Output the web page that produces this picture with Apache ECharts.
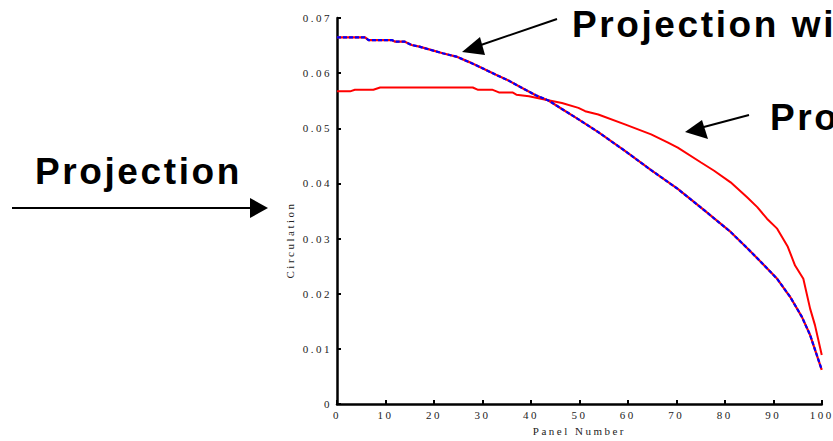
<!DOCTYPE html>
<html>
  <head>
    <meta charset="UTF-8">
    <style>
      #container text[style*="Serif"], #container text[font-family*="Serif"] { letter-spacing: 2.5px; }
      #container text[style*="Sans"], #container text[font-family*="Sans"] { letter-spacing: 2.6px; }
    </style>
  </head>
  <body style="margin: 0; background: #fff">
    <div id="container" style="width: 833px; height: 441px"></div>
    <script src="https://cdn.jsdelivr.net/npm/echarts@6/dist/echarts.min.js"></script>
    <script>
    // projection with ... (red line overdrawn with blue dashes)
    var panelA = [0, 5.8, 6.5, 11.3, 12, 14, 15.4, 17, 19, 21.8, 24.6, 27.3, 30, 32.8, 35.5, 38.2, 41, 43.7, 46.4, 49.5,
                  53.9, 59.4, 64.8, 70.3, 75.8, 81.2, 84.7, 87.4, 90.8, 93.5, 95.9, 97.6, 100];
    var circA = [0.0665, 0.0665, 0.0660, 0.0660, 0.0657, 0.0657, 0.0651, 0.0648, 0.0643, 0.0636, 0.0630, 0.0620, 0.0609,
                 0.0597, 0.0586, 0.0573, 0.0560, 0.0550, 0.0535, 0.0518, 0.0493, 0.0459, 0.0424, 0.0390, 0.0351, 0.0312,
                 0.0282, 0.0258, 0.0227, 0.0194, 0.0158, 0.0125, 0.0062];
    // projection (red)
    var panelB = [0, 2.7, 3.7, 7.5, 8.9, 28, 29, 32, 33.4, 36.2, 37, 39.6, 42.3, 46.4, 49.8, 51.2, 53.9, 59.4, 64.8, 68.3,
                  70.3, 75.1, 77.8, 81.2, 84.6, 86.7, 88.7, 90.8, 93, 94.5, 96.2, 97.6, 98.6, 100];
    var circB = [0.0567, 0.0567, 0.0570, 0.0570, 0.0574, 0.0574, 0.0570, 0.0570, 0.0565, 0.0565, 0.0561, 0.0558, 0.0553,
                 0.0546, 0.0537, 0.0531, 0.0525, 0.0507, 0.0489, 0.0474, 0.0465, 0.0438, 0.0423, 0.0402, 0.0375, 0.0357,
                 0.0336, 0.0318, 0.0285, 0.0251, 0.0227, 0.0173, 0.0143, 0.0089];
    var xTicks = [0, 100, 10];
    var yTicks = [0, 0.07, 0.01];

    function pairs(xs, ys) {
      return xs.map(function (x, i) { return [x, ys[i]]; });
    }

    var serif = '"Liberation Serif", "DejaVu Serif", serif';
    var sans = '"Liberation Sans", Arial, sans-serif';
    var big = 'bold 37px ' + sans;

    var myChart = echarts.init(document.getElementById('container'), null, { renderer: 'svg' });

    var option = {
      animation: false,
      backgroundColor: '#fff',
      grid: { left: 337, right: 8, top: 18, bottom: 35, containLabel: false },
      xAxis: {
        type: 'value',
        min: xTicks[0], max: xTicks[1], interval: xTicks[2],
        name: 'Panel Number',
        nameLocation: 'middle',
        nameGap: 21,
        nameTextStyle: { fontFamily: serif, fontSize: 11, color: '#222' },
        splitLine: { show: false },
        axisLine: { lineStyle: { color: '#000', width: 2.5 } },
        axisTick: { inside: true, length: 4, lineStyle: { color: '#000', width: 2 } },
        axisLabel: { fontFamily: serif, fontSize: 11, color: '#222', margin: 5, showMaxLabel: true }
      },
      yAxis: {
        type: 'value',
        min: yTicks[0], max: yTicks[1], interval: yTicks[2],
        splitLine: { show: false },
        axisLine: { show: true, lineStyle: { color: '#000', width: 2.5 } },
        axisTick: { show: true, inside: true, length: 4, lineStyle: { color: '#000', width: 2 } },
        axisLabel: {
          fontFamily: serif, fontSize: 11, color: '#222', margin: 5,
          padding: [0, 0, 6, 0],
          formatter: function (v) { return v === 0 ? '0' : v.toFixed(2); }
        }
      },
      series: [
        {
          name: 'Projection',
          type: 'line',
          data: pairs(panelB, circB),
          showSymbol: false,
          lineStyle: { color: '#ff0000', width: 2 }
        },
        {
          name: 'Projection wi (base)',
          type: 'line',
          data: pairs(panelA, circA),
          showSymbol: false,
          lineStyle: { color: '#ff0000', width: 2.2 }
        },
        {
          name: 'Projection wi',
          type: 'line',
          data: pairs(panelA, circA),
          showSymbol: false,
          lineStyle: { color: '#0000ff', width: 2.2, type: [4, 2] }
        }
      ],
      graphic: [
        { type: 'text', x: 290, y: 240, rotation: Math.PI / 2,
          style: { text: 'Circulation', font: '11px ' + serif, fill: '#222', align: 'center', verticalAlign: 'middle' } },
        { type: 'text', x: 35, y: 171,
          style: { text: 'Projection', font: big, fill: '#000', align: 'left', verticalAlign: 'middle' } },
        { type: 'text', x: 572, y: 24,
          style: { text: 'Projection wi', font: big, fill: '#000', align: 'left', verticalAlign: 'middle' } },
        { type: 'text', x: 770, y: 117,
          style: { text: 'Pro', font: big, fill: '#000', align: 'left', verticalAlign: 'middle' } },
        // arrows
        { type: 'line', shape: { x1: 12, y1: 208, x2: 252, y2: 208 }, style: { stroke: '#000', lineWidth: 2 } },
        { type: 'polygon', shape: { points: [[268, 208], [250, 198], [250, 218]] }, style: { fill: '#000' } },
        { type: 'line', shape: { x1: 557, y1: 19, x2: 478, y2: 46 }, style: { stroke: '#000', lineWidth: 2 } },
        { type: 'polygon', shape: { points: [[462, 52], [480, 37], [485, 55]] }, style: { fill: '#000' } },
        { type: 'line', shape: { x1: 749, y1: 115, x2: 700, y2: 128 }, style: { stroke: '#000', lineWidth: 2 } },
        { type: 'polygon', shape: { points: [[685, 132], [702, 120], [708, 139]] }, style: { fill: '#000' } }
      ]
    };

    myChart.setOption(option);
    window.addEventListener('resize', myChart.resize);
    </script>
  </body>
</html>
